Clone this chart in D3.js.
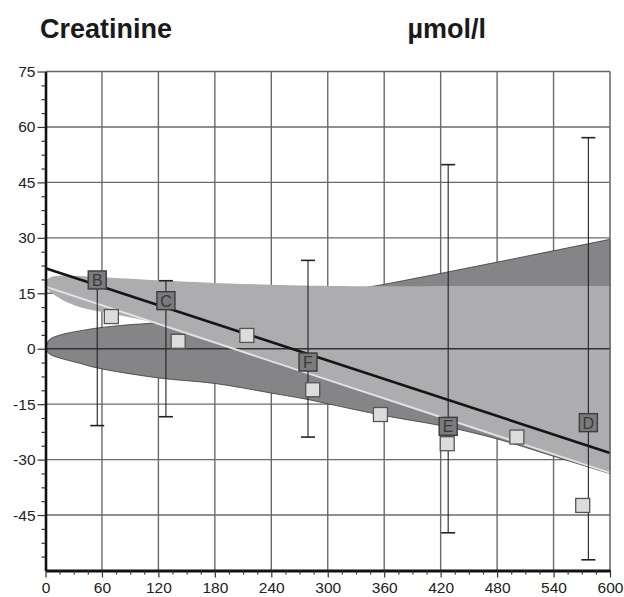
<!DOCTYPE html>
<html>
<head>
<meta charset="utf-8">
<script src="https://cdnjs.cloudflare.com/ajax/libs/d3/7.8.5/d3.min.js"></script>
<style>
  body { margin: 0; background: #fff; }
  svg { display: block; font-family: "Liberation Sans", Arial, sans-serif; }
</style>
</head>
<body>
<script>
// axis ticks
var xTicks = [0, 60, 120, 180, 240, 300, 360, 420, 480, 540, 600];
var yTicks = [-45, -30, -15, 0, 15, 30, 45, 60, 75];

// labelled points with +/- SD bars around zero
var ptLabels = ["B", "C", "F", "E", "D"];
var ptX = [55, 128, 279, 428, 577];
var ptY = [18.6, 13, -3.6, -21, -20];
var ptSD = [20.8, 18.4, 23.9, 49.8, 57.1];

// plain squares
var sqX = [70, 141, 214, 284, 356, 427, 501, 571];
var sqY = [8.7, 2.0, 3.6, -11.1, -17.8, -25.7, -23.9, -42.4];

// trend lines (x, y)
var trendDark = [[0, 21.8], [600, -28.2]];
var trendLight = [[0, 16.8], [600, -33.6]];

// shaded regions
var darkTop = [[0, 0], [4, 2.4], [18, 3.9], [36, 4.8], [55, 5.6], [89, 6.5], [115, 7.0], [300, 14.9], [355, 17.2], [600, 29.6]];
var darkBottom = [[600, -33.8], [540, -29.1], [480, -24.4], [420, -20.8], [360, -18.1], [300, -14.9], [280, -13.8],
  [240, -12], [180, -9.4], [120, -7.9], [55, -5.2], [36, -3.9], [15, -2.5], [4, -1.4], [0, 0]];
var lightTop = [[0, 18.4], [6, 19.4], [18, 19.8], [55, 19.4], [120, 18.5], [180, 17.8], [240, 17.3], [300, 17], [600, 17]];
var lightBottom = [[600, -33.6], [115, 7.1], [100, 8.0], [75, 9.2], [55, 10.2], [36, 11.3], [18, 13.2], [6, 15.2], [0, 16.6]];

var w = 624, h = 597;

var x = d3.scaleLinear().domain([0, 600]).range([45.5, 610]);
var y = d3.scaleLinear().domain([-60, 75]).range([570.5, 71.5]);

var svg = d3.select("body").append("svg")
  .attr("width", w)
  .attr("height", h);

// title
svg.append("text")
  .attr("x", 40).attr("y", 38)
  .style("font-size", "27px").style("font-weight", "bold").style("fill", "#1a1a1a")
  .text("Creatinine");
svg.append("text")
  .attr("x", 486).attr("y", 38)
  .attr("text-anchor", "end")
  .style("font-size", "27px").style("font-weight", "bold").style("fill", "#1a1a1a")
  .text("µmol/l");

// grid
svg.append("g").selectAll("line")
  .data(xTicks.slice(1, -1))
  .enter().append("line")
  .attr("x1", function(d) { return x(d); })
  .attr("x2", function(d) { return x(d); })
  .attr("y1", y(75)).attr("y2", y(-60))
  .style("stroke", "#6a6a6a").style("stroke-width", 1.4);

svg.append("g").selectAll("line")
  .data(yTicks.filter(function(d) { return d != 0 && d != 75; }))
  .enter().append("line")
  .attr("x1", x(0)).attr("x2", x(600))
  .attr("y1", function(d) { return y(d); })
  .attr("y2", function(d) { return y(d); })
  .style("stroke", "#6a6a6a").style("stroke-width", 1.4);

// shaded regions
var edge = d3.line()
  .x(function(d) { return x(d[0]); })
  .y(function(d) { return y(d[1]); })
  .curve(d3.curveCatmullRom);

function region(top, bottom) {
  return edge(top) + edge(bottom).replace(/^M/, "L") + "Z";
}

svg.append("path")
  .attr("d", region(darkTop, darkBottom))
  .style("fill", "#858588")
  .style("stroke", "#3a3a3a").style("stroke-width", 0.8);

svg.append("path")
  .attr("d", region(lightTop, lightBottom))
  .style("fill", "#adadb0")
  .style("stroke", "none");

// zero line
svg.append("line")
  .attr("x1", x(0)).attr("x2", x(600))
  .attr("y1", y(0)).attr("y2", y(0))
  .style("stroke", "#333").style("stroke-width", 1.6);

// trend lines
var straight = d3.line()
  .x(function(d) { return x(d[0]); })
  .y(function(d) { return y(d[1]); });

svg.append("path")
  .attr("d", straight(trendLight))
  .style("fill", "none").style("stroke", "#e2e2e2").style("stroke-width", 2);

svg.append("path")
  .attr("d", straight(trendDark))
  .style("fill", "none").style("stroke", "#151515").style("stroke-width", 2.6);

// error bars
var bars = svg.append("g").style("stroke", "#222").style("stroke-width", 1.1);
ptX.forEach(function(px, i) {
  bars.append("line")
    .attr("x1", x(px)).attr("x2", x(px))
    .attr("y1", y(ptSD[i])).attr("y2", y(-ptSD[i]));
  [ptSD[i], -ptSD[i]].forEach(function(v) {
    bars.append("line")
      .attr("x1", x(px) - 7).attr("x2", x(px) + 7)
      .attr("y1", y(v)).attr("y2", y(v))
      .style("stroke-width", 1.6);
  });
});

// squares
svg.append("g").selectAll("rect")
  .data(sqX)
  .enter().append("rect")
  .attr("x", function(d) { return x(d) - 7; })
  .attr("y", function(d, i) { return y(sqY[i]) - 7; })
  .attr("width", 14).attr("height", 14)
  .style("fill", "#dcdcdc").style("stroke", "#555").style("stroke-width", 1.3);

// labelled boxes
var boxes = svg.append("g").selectAll("g")
  .data(ptLabels)
  .enter().append("g")
  .attr("transform", function(d, i) { return "translate(" + x(ptX[i]) + "," + y(ptY[i]) + ")"; });

boxes.append("rect")
  .attr("x", -9).attr("y", -9)
  .attr("width", 18).attr("height", 18)
  .style("fill", "#7b7b7e").style("stroke", "#3c3c3c").style("stroke-width", 1.4);

boxes.append("text")
  .attr("text-anchor", "middle")
  .attr("y", 6)
  .style("font-size", "16px").style("fill", "#3a3a3a")
  .text(function(d) { return d; });

// frame
svg.append("line")
  .attr("x1", x(0)).attr("x2", x(600)).attr("y1", y(75)).attr("y2", y(75))
  .style("stroke", "#666").style("stroke-width", 1.5);
svg.append("line")
  .attr("x1", x(600)).attr("x2", x(600)).attr("y1", y(75)).attr("y2", y(-60))
  .style("stroke", "#666").style("stroke-width", 1.5);

// axes
var yMinor = d3.range(-60, 75.1, 3.75).filter(function(d) { return d % 15 != 0; });
var xMinor = d3.range(0, 600.1, 15).filter(function(d) { return d % 60 != 0; });

var yAxis = svg.append("g")
  .attr("transform", "translate(" + x(0) + ",0)")
  .call(d3.axisLeft(y).tickValues(yTicks).tickSize(8).tickSizeOuter(0)
    .tickFormat(function(d) { return String(d); }));
svg.append("g")
  .attr("transform", "translate(" + x(0) + ",0)")
  .call(d3.axisLeft(y).tickValues(yMinor).tickSize(4).tickSizeOuter(0).tickFormat(""))
  .select(".domain").remove();

var xAxis = svg.append("g")
  .attr("transform", "translate(0," + y(-60) + ")")
  .call(d3.axisBottom(x).tickValues(xTicks).tickSize(7).tickSizeOuter(0)
    .tickFormat(function(d) { return String(d); }));
svg.append("g")
  .attr("transform", "translate(0," + y(-60) + ")")
  .call(d3.axisBottom(x).tickValues(xMinor).tickSize(4).tickSizeOuter(0).tickFormat(""))
  .select(".domain").remove();

yAxis.select(".domain").style("stroke", "#111").style("stroke-width", 2.6);
xAxis.select(".domain").style("stroke", "#111").style("stroke-width", 3);
svg.selectAll(".tick line").style("stroke", "#333").style("stroke-width", 1.2);
svg.selectAll(".tick text")
  .style("font-size", "15.5px").style("fill", "#222").style("font-family", "'Liberation Sans', Arial, sans-serif");
yAxis.selectAll(".tick text").attr("x", -10);
xAxis.selectAll(".tick text").attr("y", 11);
</script>
</body>
</html>
